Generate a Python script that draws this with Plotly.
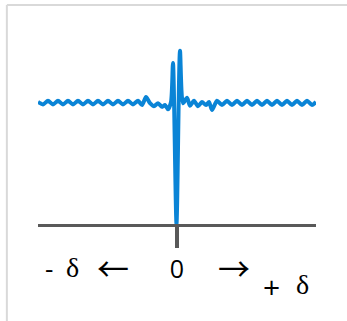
import plotly.graph_objects as go

# horizontal position (offset from centre) and signal level
offset = [-139, -134, -129, -124, -119, -114, -109, -104, -99, -94, -89, -84, -79, -74,
          -69, -64, -59, -54, -49, -44, -39, -35, -31, -27, -23, -19, -15, -12, -9, -6,
          -4, -0.5, 3, 6, 10, 13, 17, 21, 25, 29, 32, 35, 40, 45, 50, 55, 60, 65, 70,
          75, 80, 85, 90, 95, 100, 105, 110, 115, 120, 125, 130, 135, 139]
signal = [1.0, 0.98, 1.01, 0.98, 1.01, 0.98, 1.01, 0.98, 1.01, 0.98, 1.01, 0.98, 1.01, 0.98,
          1.01, 0.98, 1.01, 0.98, 1.01, 0.98, 1.01, 0.975, 1.04, 0.99, 0.965, 0.99, 0.96, 0.975, 0.94, 1.0,
          1.32, 0.0, 1.42, 0.99, 1.035, 0.97, 1.01, 0.965, 1.0, 0.975, 1.0, 0.935, 1.01, 0.975, 1.01, 0.975, 1.01, 0.975, 1.01,
          0.975, 1.01, 0.975, 1.01, 0.975, 1.01, 0.975, 1.01, 0.975, 1.01, 0.975, 1.01, 0.975, 1.0]

tick_vals = [0]
tick_text = ["0"]

fig = go.Figure(go.Scatter(
    x=offset, y=signal, mode="lines",
    line=dict(color="#0a84d6", width=4, shape="spline", smoothing=0.7),
    hoverinfo="skip"))

black = "black"


def label(x, y, text, family, size):
    return dict(xref="paper", yref="paper", x=x, y=y, xanchor="center", yanchor="middle",
                text=text, showarrow=False, font=dict(family=family, size=size, color=black))


fig.update_layout(
    width=347, height=321,
    margin=dict(l=38, r=31, t=41, b=97),
    paper_bgcolor="white", plot_bgcolor="white",
    showlegend=False,
    xaxis=dict(range=[-139, 139], showgrid=False, zeroline=False,
               showline=True, linecolor="#595959", linewidth=3,
               tickvals=tick_vals, ticktext=tick_text, ticks="outside",
               ticklen=21, tickwidth=4, tickcolor="#595959",
               tickfont=dict(family="Open Sans", size=25, color=black)),
    yaxis=dict(range=[0, 1.5], visible=False),
    shapes=[
        dict(type="line", xref="paper", yref="paper", x0=-0.112, x1=-0.112, y0=1.197, y1=-0.6,
             line=dict(color="#d9d9d9", width=2)),
        dict(type="line", xref="paper", yref="paper", x0=-0.112, x1=1.2, y0=1.197, y1=1.197,
             line=dict(color="#d9d9d9", width=2)),
    ],
    annotations=[
        label(0.041, -0.24, "-", "Open Sans", 26),
        label(0.124, -0.24, "δ", "Liberation Serif", 28),
        label(0.268, -0.235, "←", "Noto Sans CJK SC", 32),
        label(0.705, -0.235, "→", "Noto Sans CJK SC", 32),
        label(0.840, -0.342, "+", "Open Sans", 30),
        label(0.951, -0.328, "δ", "Liberation Serif", 28),
    ],
)

fig.write_html("out.html", config={"displayModeBar": False},
               post_script="document.body.style.margin='0';")
